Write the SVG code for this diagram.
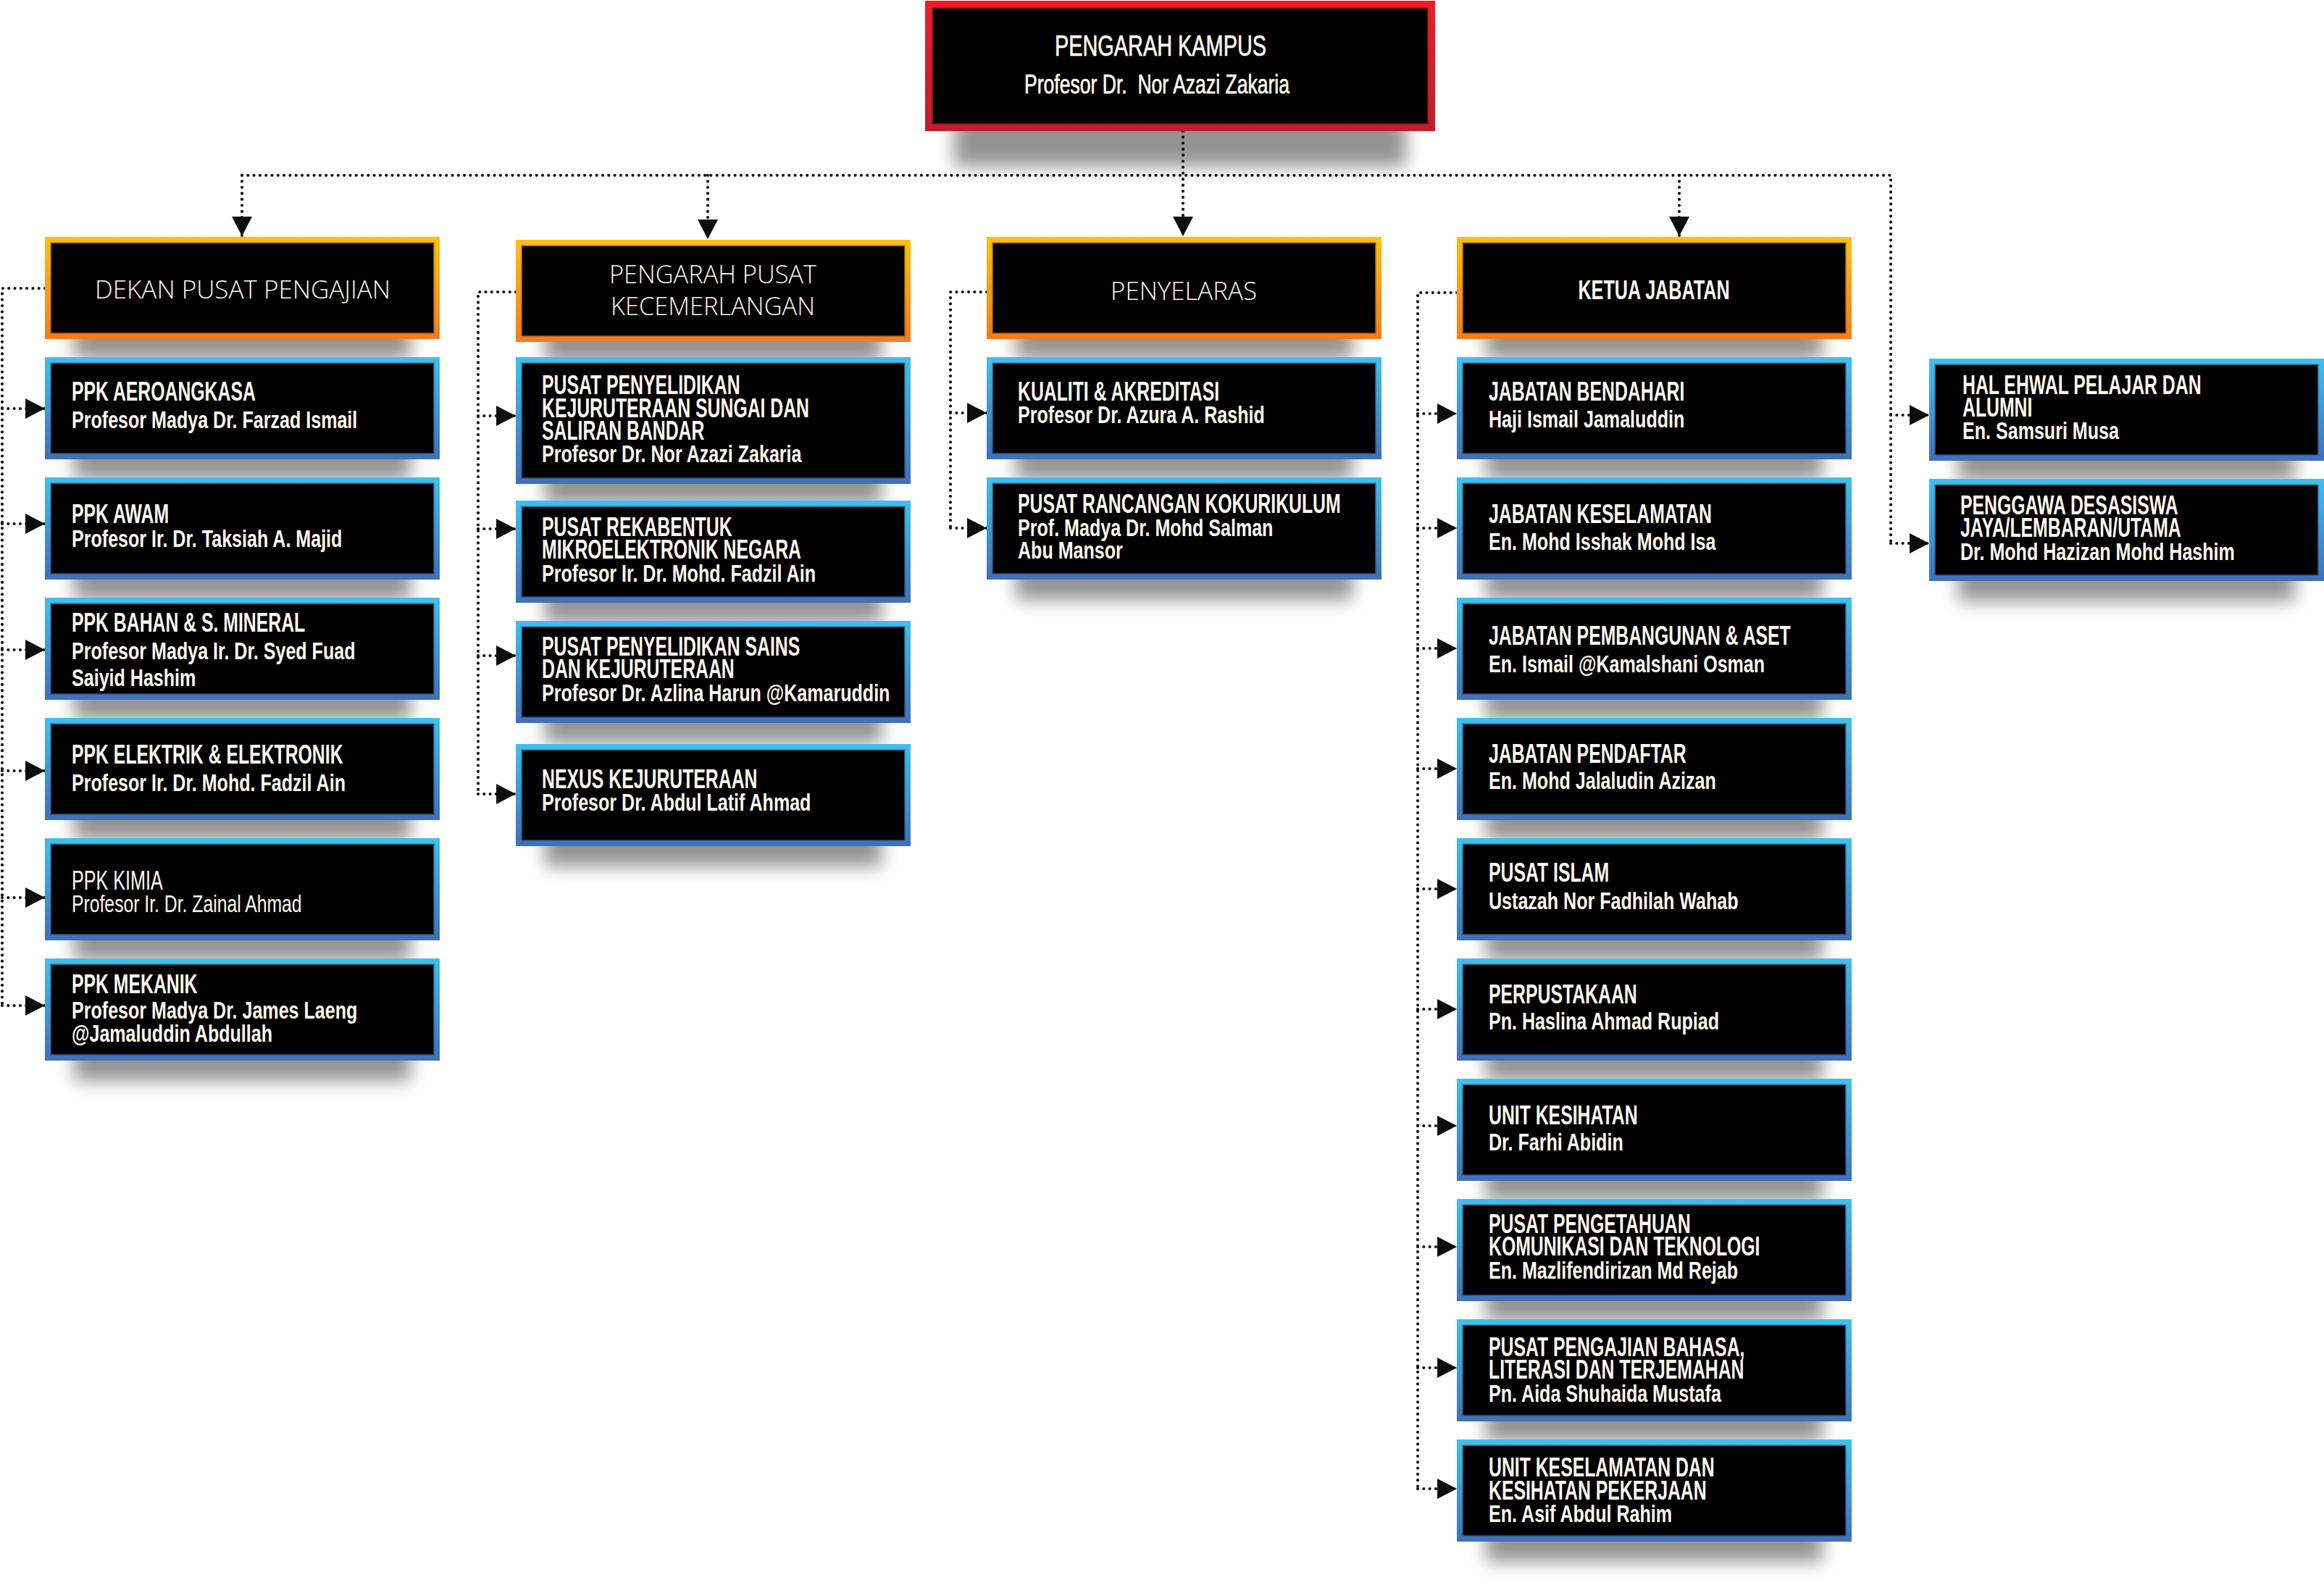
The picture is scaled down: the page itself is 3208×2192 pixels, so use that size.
<svg xmlns="http://www.w3.org/2000/svg" width="3208" height="2192" viewBox="0 0 3208 2192">
<defs>
<linearGradient id="gO" x1="0" y1="0" x2="0" y2="1"><stop offset="0" stop-color="#fdc010"/><stop offset="1" stop-color="#f27b21"/></linearGradient>
<linearGradient id="gB" x1="0" y1="0" x2="0" y2="1"><stop offset="0" stop-color="#3fc0ee"/><stop offset="1" stop-color="#4070b8"/></linearGradient>
<linearGradient id="gR" x1="0" y1="0" x2="0" y2="1"><stop offset="0" stop-color="#ee1d25"/><stop offset="1" stop-color="#bd1f2c"/></linearGradient>
<filter id="blur" x="-20%" y="-100%" width="140%" height="300%"><feGaussianBlur stdDeviation="12"/></filter>
<marker id="ah" markerUnits="userSpaceOnUse" viewBox="0 0 27 28" markerWidth="27" markerHeight="28" refX="27" refY="14" orient="auto"><path d="M0,0 L27,14 L0,28 z" fill="#0d0d0d"/></marker>
<style>
.sh{fill:#000;opacity:.42;filter:url(#blur)}
.bo{fill:url(#gO)}
.bb{fill:url(#gB)}
.in{fill:#000;stroke:#000;stroke-opacity:.45;stroke-width:3}
.t{font-family:'Liberation Sans',Arial,sans-serif;font-weight:700;font-size:37px;fill:#fffaf0}
.n{font-family:'Liberation Sans',Arial,sans-serif;font-weight:700;font-size:33px;fill:#fffaf0}
.r{font-weight:400}
.h{font-family:'Open Sans','Liberation Sans',sans-serif;font-weight:300;font-size:34px;fill:#fffaf0;text-anchor:middle}
.k{font-family:'Liberation Sans',Arial,sans-serif;font-weight:400;fill:#fffaf0;stroke:#fffaf0;stroke-width:.7;text-anchor:middle}
.dot{fill:none;stroke:#111;stroke-width:4.2;stroke-linecap:round;stroke-dasharray:0 8.3}
.arr{marker-end:url(#ah)}
</style>
</defs>
<rect width="3208" height="2192" fill="#fff"/>

<g id="connectors">
<path class="dot" d="M334 242 H2610 V750"/>
<path class="dot arr" d="M1633 181 V326"/>
<path class="dot arr" d="M334 242 V326"/>
<path class="dot arr" d="M977 242 V330"/>
<path class="dot arr" d="M2318 242 V326"/>
<path class="dot arr" d="M2610 573 H2663"/>
<path class="dot arr" d="M2610 750 H2663"/>
<path class="dot" d="M62 398 H3 V1388"/>
<path class="dot arr" d="M3 564 H62"/>
<path class="dot arr" d="M3 723 H62"/>
<path class="dot arr" d="M3 897 H62"/>
<path class="dot arr" d="M3 1064 H62"/>
<path class="dot arr" d="M3 1239 H62"/>
<path class="dot arr" d="M3 1388 H62"/>
<path class="dot" d="M712 403 H660 V1096"/>
<path class="dot arr" d="M660 574 H712"/>
<path class="dot arr" d="M660 730 H712"/>
<path class="dot arr" d="M660 905 H712"/>
<path class="dot arr" d="M660 1096 H712"/>
<path class="dot" d="M1362 403 H1312 V729"/>
<path class="dot arr" d="M1312 570 H1362"/>
<path class="dot arr" d="M1312 729 H1362"/>
<path class="dot" d="M2011 404 H1957 V2055"/>
<path class="dot arr" d="M1957 571 H2011"/>
<path class="dot arr" d="M1957 729 H2011"/>
<path class="dot arr" d="M1957 895 H2011"/>
<path class="dot arr" d="M1957 1061 H2011"/>
<path class="dot arr" d="M1957 1227 H2011"/>
<path class="dot arr" d="M1957 1393 H2011"/>
<path class="dot arr" d="M1957 1554 H2011"/>
<path class="dot arr" d="M1957 1721 H2011"/>
<path class="dot arr" d="M1957 1888 H2011"/>
<path class="dot arr" d="M1957 2055 H2011"/>
</g>

<g id="pengarah-kampus">
<rect class="sh" x="1317" y="150" width="624" height="80"/>
<rect fill="url(#gR)" x="1277" y="1" width="704" height="180"/>
<rect class="in" x="1288" y="12" width="682" height="158"/>
<text class="k" x="1602" y="77" font-size="40" textLength="292" lengthAdjust="spacingAndGlyphs">PENGARAH KAMPUS</text>
<text class="k" x="1597" y="129" font-size="37" textLength="366" lengthAdjust="spacingAndGlyphs" style="white-space:pre">Profesor Dr.  Nor Azazi Zakaria</text>
</g>

<g id="dekan-pusat-pengajian">
<rect class="sh" x="102" y="440" width="465" height="56"/>
<rect class="bo" x="62" y="327" width="545" height="141"/>
<rect class="in" x="71" y="336" width="527" height="123"/>
<text class="h" x="335" y="412" textLength="408" lengthAdjust="spacingAndGlyphs">DEKAN PUSAT PENGAJIAN</text>
</g>
<g id="pengarah-pusat-kecemerlangan">
<rect class="sh" x="752" y="444" width="465" height="56"/>
<rect class="bo" x="712" y="331" width="545" height="141"/>
<rect class="in" x="721" y="340" width="527" height="123"/>
<text class="h" x="984" y="391" textLength="286" lengthAdjust="spacingAndGlyphs">PENGARAH PUSAT</text>
<text class="h" x="984" y="435" textLength="282" lengthAdjust="spacingAndGlyphs">KECEMERLANGAN</text>
</g>
<g id="penyelaras">
<rect class="sh" x="1402" y="440" width="465" height="56"/>
<rect class="bo" x="1362" y="327" width="545" height="141"/>
<rect class="in" x="1371" y="336" width="527" height="123"/>
<text class="h" x="1634" y="414" textLength="202" lengthAdjust="spacingAndGlyphs">PENYELARAS</text>
</g>
<g id="ketua-jabatan">
<rect class="sh" x="2051" y="440" width="465" height="56"/>
<rect class="bo" x="2011" y="327" width="545" height="141"/>
<rect class="in" x="2020" y="336" width="527" height="123"/>
<text class="t" font-size="39" text-anchor="middle" transform="translate(2283 413) scale(.68 1)">KETUA JABATAN</text>
</g>

<g id="ppk-aeroangkasa">
<rect class="sh" x="102" y="606" width="465" height="56"/>
<rect class="bb" x="62" y="493" width="545" height="141"/>
<rect class="in" x="71" y="502" width="527" height="123"/>
<text class="t" transform="translate(99 553) scale(.67 1)">PPK AEROANGKASA</text>
<text class="n" transform="translate(99 591) scale(.76 1)">Profesor Madya Dr. Farzad Ismail</text>
</g>
<g id="ppk-awam">
<rect class="sh" x="102" y="772" width="465" height="56"/>
<rect class="bb" x="62" y="659" width="545" height="141"/>
<rect class="in" x="71" y="668" width="527" height="123"/>
<text class="t" transform="translate(99 722) scale(.67 1)">PPK AWAM</text>
<text class="n" transform="translate(99 755) scale(.76 1)">Profesor Ir. Dr. Taksiah A. Majid</text>
</g>
<g id="ppk-bahan">
<rect class="sh" x="102" y="938" width="465" height="56"/>
<rect class="bb" x="62" y="825" width="545" height="141"/>
<rect class="in" x="71" y="834" width="527" height="123"/>
<text class="t" transform="translate(99 872) scale(.67 1)">PPK BAHAN &amp; S. MINERAL</text>
<text class="n" transform="translate(99 910) scale(.76 1)"><tspan x="0" y="0">Profesor Madya Ir. Dr. Syed Fuad</tspan><tspan x="0" y="37">Saiyid Hashim</tspan></text>
</g>
<g id="ppk-elektrik">
<rect class="sh" x="102" y="1104" width="465" height="56"/>
<rect class="bb" x="62" y="991" width="545" height="141"/>
<rect class="in" x="71" y="1000" width="527" height="123"/>
<text class="t" transform="translate(99 1054) scale(.67 1)">PPK ELEKTRIK &amp; ELEKTRONIK</text>
<text class="n" transform="translate(99 1092) scale(.76 1)">Profesor Ir. Dr. Mohd. Fadzil Ain</text>
</g>
<g id="ppk-kimia">
<rect class="sh" x="102" y="1270" width="465" height="56"/>
<rect class="bb" x="62" y="1157" width="545" height="141"/>
<rect class="in" x="71" y="1166" width="527" height="123"/>
<text class="t r" transform="translate(99 1228) scale(.68 1)">PPK KIMIA</text>
<text class="n r" transform="translate(99 1259) scale(.75 1)">Profesor Ir. Dr. Zainal Ahmad</text>
</g>
<g id="ppk-mekanik">
<rect class="sh" x="102" y="1436" width="465" height="56"/>
<rect class="bb" x="62" y="1323" width="545" height="141"/>
<rect class="in" x="71" y="1332" width="527" height="123"/>
<text class="t" transform="translate(99 1371) scale(.67 1)">PPK MEKANIK</text>
<text class="n" transform="translate(99 1406) scale(.76 1)"><tspan x="0" y="0">Profesor Madya Dr. James Laeng</tspan><tspan x="0" y="32">@Jamaluddin Abdullah</tspan></text>
</g>

<g id="pusat-penyelidikan-sungai">
<rect class="sh" x="752" y="640" width="465" height="56"/>
<rect class="bb" x="712" y="493" width="545" height="175"/>
<rect class="in" x="721" y="502" width="527" height="157"/>
<text class="t" transform="translate(748 544) scale(.67 1)"><tspan x="0" y="0">PUSAT PENYELIDIKAN</tspan><tspan x="0" y="32">KEJURUTERAAN SUNGAI DAN</tspan><tspan x="0" y="63">SALIRAN BANDAR</tspan></text>
<text class="n" transform="translate(748 638) scale(.76 1)">Profesor Dr. Nor Azazi Zakaria</text>
</g>
<g id="pusat-rekabentuk">
<rect class="sh" x="752" y="804" width="465" height="56"/>
<rect class="bb" x="712" y="691" width="545" height="141"/>
<rect class="in" x="721" y="700" width="527" height="123"/>
<text class="t" transform="translate(748 740) scale(.67 1)"><tspan x="0" y="0">PUSAT REKABENTUK</tspan><tspan x="0" y="31">MIKROELEKTRONIK NEGARA</tspan></text>
<text class="n" transform="translate(748 803) scale(.76 1)">Profesor Ir. Dr. Mohd. Fadzil Ain</text>
</g>
<g id="pusat-penyelidikan-sains">
<rect class="sh" x="752" y="970" width="465" height="56"/>
<rect class="bb" x="712" y="857" width="545" height="141"/>
<rect class="in" x="721" y="866" width="527" height="123"/>
<text class="t" transform="translate(748 905) scale(.67 1)"><tspan x="0" y="0">PUSAT PENYELIDIKAN SAINS</tspan><tspan x="0" y="31">DAN KEJURUTERAAN</tspan></text>
<text class="n" transform="translate(748 968) scale(.76 1)">Profesor Dr. Azlina Harun @Kamaruddin</text>
</g>
<g id="nexus-kejuruteraan">
<rect class="sh" x="752" y="1140" width="465" height="56"/>
<rect class="bb" x="712" y="1027" width="545" height="141"/>
<rect class="in" x="721" y="1036" width="527" height="123"/>
<text class="t" transform="translate(748 1088) scale(.67 1)">NEXUS KEJURUTERAAN</text>
<text class="n" transform="translate(748 1119) scale(.76 1)">Profesor Dr. Abdul Latif Ahmad</text>
</g>

<g id="kualiti-akreditasi">
<rect class="sh" x="1402" y="606" width="465" height="56"/>
<rect class="bb" x="1362" y="493" width="545" height="141"/>
<rect class="in" x="1371" y="502" width="527" height="123"/>
<text class="t" transform="translate(1405 553) scale(.67 1)">KUALITI &amp; AKREDITASI</text>
<text class="n" transform="translate(1405 584) scale(.76 1)">Profesor Dr. Azura A. Rashid</text>
</g>
<g id="pusat-rancangan-kokurikulum">
<rect class="sh" x="1402" y="772" width="465" height="56"/>
<rect class="bb" x="1362" y="659" width="545" height="141"/>
<rect class="in" x="1371" y="668" width="527" height="123"/>
<text class="t" transform="translate(1405 708) scale(.67 1)">PUSAT RANCANGAN KOKURIKULUM</text>
<text class="n" transform="translate(1405 740) scale(.76 1)"><tspan x="0" y="0">Prof. Madya Dr. Mohd Salman</tspan><tspan x="0" y="31">Abu Mansor</tspan></text>
</g>

<g id="jabatan-bendahari">
<rect class="sh" x="2051" y="606" width="465" height="56"/>
<rect class="bb" x="2011" y="493" width="545" height="141"/>
<rect class="in" x="2020" y="502" width="527" height="123"/>
<text class="t" transform="translate(2055 553) scale(.67 1)">JABATAN BENDAHARI</text>
<text class="n" transform="translate(2055 590) scale(.76 1)">Haji Ismail Jamaluddin</text>
</g>
<g id="jabatan-keselamatan">
<rect class="sh" x="2051" y="772" width="465" height="56"/>
<rect class="bb" x="2011" y="659" width="545" height="141"/>
<rect class="in" x="2020" y="668" width="527" height="123"/>
<text class="t" transform="translate(2055 722) scale(.67 1)">JABATAN KESELAMATAN</text>
<text class="n" transform="translate(2055 759) scale(.76 1)">En. Mohd Isshak Mohd Isa</text>
</g>
<g id="jabatan-pembangunan">
<rect class="sh" x="2051" y="938" width="465" height="56"/>
<rect class="bb" x="2011" y="825" width="545" height="141"/>
<rect class="in" x="2020" y="834" width="527" height="123"/>
<text class="t" transform="translate(2055 890) scale(.67 1)">JABATAN PEMBANGUNAN &amp; ASET</text>
<text class="n" transform="translate(2055 928) scale(.76 1)">En. Ismail @Kamalshani Osman</text>
</g>
<g id="jabatan-pendaftar">
<rect class="sh" x="2051" y="1104" width="465" height="56"/>
<rect class="bb" x="2011" y="991" width="545" height="141"/>
<rect class="in" x="2020" y="1000" width="527" height="123"/>
<text class="t" transform="translate(2055 1053) scale(.67 1)">JABATAN PENDAFTAR</text>
<text class="n" transform="translate(2055 1089) scale(.76 1)">En. Mohd Jalaludin Azizan</text>
</g>
<g id="pusat-islam">
<rect class="sh" x="2051" y="1270" width="465" height="56"/>
<rect class="bb" x="2011" y="1157" width="545" height="141"/>
<rect class="in" x="2020" y="1166" width="527" height="123"/>
<text class="t" transform="translate(2055 1217) scale(.67 1)">PUSAT ISLAM</text>
<text class="n" transform="translate(2055 1255) scale(.76 1)">Ustazah Nor Fadhilah Wahab</text>
</g>
<g id="perpustakaan">
<rect class="sh" x="2051" y="1436" width="465" height="56"/>
<rect class="bb" x="2011" y="1323" width="545" height="141"/>
<rect class="in" x="2020" y="1332" width="527" height="123"/>
<text class="t" transform="translate(2055 1385) scale(.67 1)">PERPUSTAKAAN</text>
<text class="n" transform="translate(2055 1421) scale(.76 1)">Pn. Haslina Ahmad Rupiad</text>
</g>
<g id="unit-kesihatan">
<rect class="sh" x="2051" y="1602" width="465" height="56"/>
<rect class="bb" x="2011" y="1489" width="545" height="141"/>
<rect class="in" x="2020" y="1498" width="527" height="123"/>
<text class="t" transform="translate(2055 1552) scale(.67 1)">UNIT KESIHATAN</text>
<text class="n" transform="translate(2055 1588) scale(.76 1)">Dr. Farhi Abidin</text>
</g>
<g id="pusat-pengetahuan">
<rect class="sh" x="2051" y="1768" width="465" height="56"/>
<rect class="bb" x="2011" y="1655" width="545" height="141"/>
<rect class="in" x="2020" y="1664" width="527" height="123"/>
<text class="t" transform="translate(2055 1702) scale(.67 1)"><tspan x="0" y="0">PUSAT PENGETAHUAN</tspan><tspan x="0" y="31">KOMUNIKASI DAN TEKNOLOGI</tspan></text>
<text class="n" transform="translate(2055 1765) scale(.76 1)">En. Mazlifendirizan Md Rejab</text>
</g>
<g id="pusat-pengajian-bahasa">
<rect class="sh" x="2051" y="1934" width="465" height="56"/>
<rect class="bb" x="2011" y="1821" width="545" height="141"/>
<rect class="in" x="2020" y="1830" width="527" height="123"/>
<text class="t" transform="translate(2055 1872) scale(.67 1)"><tspan x="0" y="0">PUSAT PENGAJIAN BAHASA,</tspan><tspan x="0" y="31">LITERASI DAN TERJEMAHAN</tspan></text>
<text class="n" transform="translate(2055 1935) scale(.76 1)">Pn. Aida Shuhaida Mustafa</text>
</g>
<g id="unit-keselamatan-kesihatan">
<rect class="sh" x="2051" y="2100" width="465" height="56"/>
<rect class="bb" x="2011" y="1987" width="545" height="141"/>
<rect class="in" x="2020" y="1996" width="527" height="123"/>
<text class="t" transform="translate(2055 2038) scale(.67 1)"><tspan x="0" y="0">UNIT KESELAMATAN DAN</tspan><tspan x="0" y="32">KESIHATAN PEKERJAAN</tspan></text>
<text class="n" transform="translate(2055 2101) scale(.76 1)">En. Asif Abdul Rahim</text>
</g>

<g id="hal-ehwal-pelajar">
<rect class="sh" x="2703" y="608" width="465" height="56"/>
<rect class="bb" x="2663" y="495" width="545" height="141"/>
<rect class="in" x="2672" y="504" width="527" height="123"/>
<text class="t" transform="translate(2709 544) scale(.67 1)"><tspan x="0" y="0">HAL EHWAL PELAJAR DAN</tspan><tspan x="0" y="31">ALUMNI</tspan></text>
<text class="n" transform="translate(2709 606) scale(.76 1)">En. Samsuri Musa</text>
</g>
<g id="penggawa-desasiswa">
<rect class="sh" x="2703" y="774" width="465" height="56"/>
<rect class="bb" x="2663" y="661" width="545" height="141"/>
<rect class="in" x="2672" y="670" width="527" height="123"/>
<text class="t" transform="translate(2706 710) scale(.67 1)"><tspan x="0" y="0">PENGGAWA DESASISWA</tspan><tspan x="0" y="31">JAYA/LEMBARAN/UTAMA</tspan></text>
<text class="n" transform="translate(2706 773) scale(.76 1)">Dr. Mohd Hazizan Mohd Hashim</text>
</g>
</svg>
